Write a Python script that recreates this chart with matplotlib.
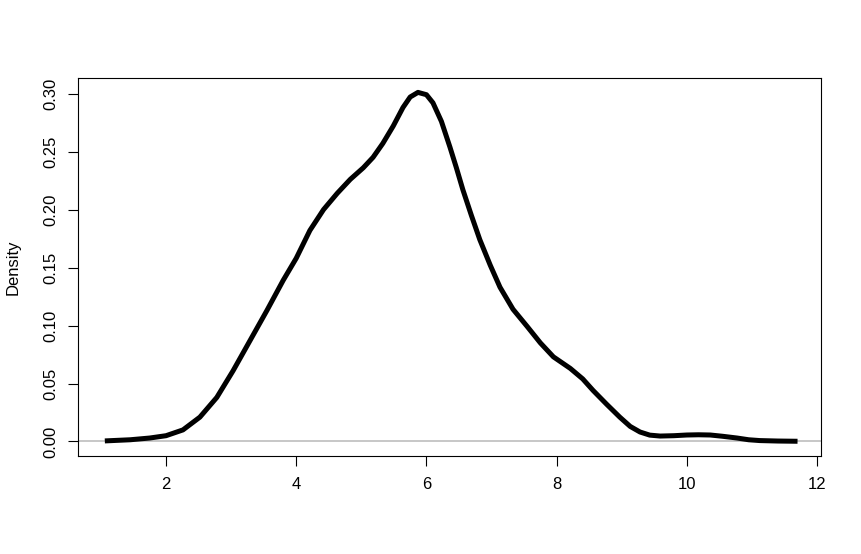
import matplotlib.pyplot as plt

# density estimate
x_vals = [1.06, 1.45, 1.75, 2.0, 2.26, 2.52, 2.78, 3.03, 3.29, 3.55, 3.80, 4.0,
          4.21, 4.42, 4.63, 4.83, 5.03, 5.18, 5.33, 5.49, 5.64, 5.75, 5.87, 6.0,
          6.10, 6.23, 6.36, 6.46, 6.56, 6.69, 6.82, 6.98, 7.13, 7.33, 7.55, 7.75,
          7.95, 8.21, 8.40, 8.56, 8.77, 8.97, 9.13, 9.28, 9.43, 9.59, 9.80, 10.0,
          10.18, 10.36, 10.55, 10.77, 10.95, 11.12, 11.40, 11.70]
dens = [0.0005, 0.0015, 0.003, 0.005, 0.010, 0.021, 0.038, 0.061, 0.087, 0.113,
        0.139, 0.158, 0.182, 0.200, 0.214, 0.226, 0.236, 0.245, 0.257, 0.272,
        0.288, 0.297, 0.301, 0.299, 0.292, 0.276, 0.254, 0.236, 0.217, 0.195,
        0.174, 0.152, 0.133, 0.114, 0.099, 0.085, 0.073, 0.063, 0.054, 0.044,
        0.032, 0.021, 0.013, 0.0082, 0.0055, 0.0047, 0.0050, 0.0056, 0.0058,
        0.0056, 0.0045, 0.0030, 0.0015, 0.0008, 0.0004, 0.0002]

x_ticks = [2, 4, 6, 8, 10, 12]
y_ticks = [0.00, 0.05, 0.10, 0.15, 0.20, 0.25, 0.30]

plt.rcParams["font.family"] = ["Liberation Sans", "DejaVu Sans"]

fig = plt.figure(figsize=(8.61, 5.54), dpi=100)
ax = fig.add_axes([0.0906, 0.1769, 0.8629, 0.6823])

ax.axhline(0, color="#BEBEBE", linewidth=1.2, zorder=1)
ax.plot(x_vals, dens, color="black", linewidth=3.6, solid_capstyle="butt",
        solid_joinstyle="round", zorder=2)

ax.set_xlim(0.648, 12.06)
ax.set_ylim(-0.0125, 0.3134)
ax.set_xticks(x_ticks)
ax.set_xticklabels([str(t) for t in x_ticks])
ax.set_yticks(y_ticks)
ax.set_yticklabels([f"{t:.2f}" for t in y_ticks], rotation=90, va="center")
ax.tick_params(axis="both", length=7, width=0.8, labelsize=12, color="black")
ax.tick_params(axis="x", pad=8)
ax.tick_params(axis="y", pad=7)
ax.set_ylabel("Density", fontsize=12)
ax.yaxis.set_label_coords(-0.0767, 0.5)
for s in ax.spines.values():
    s.set_linewidth(0.8)

fig.savefig("out.png", dpi=100)
